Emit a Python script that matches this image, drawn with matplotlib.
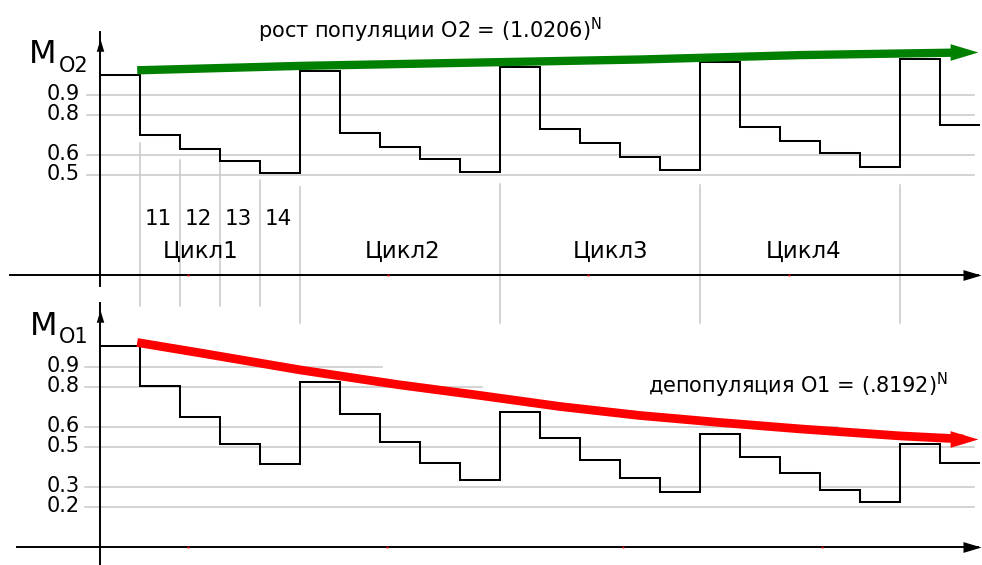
import numpy as np
import matplotlib.pyplot as plt
from matplotlib.path import Path

# уровни по шагам (один шаг = 40 px в исходнике)
o2_levels = [1.00, 0.70, 0.628, 0.568, 0.506,
             1.019, 0.706, 0.639, 0.578, 0.514,
             1.039, 0.728, 0.656, 0.589, 0.523,
             1.061, 0.739, 0.668, 0.606, 0.539,
             1.078, 0.748]
o1_levels = [1.004, 0.803, 0.646, 0.513, 0.414,
             0.824, 0.661, 0.521, 0.416, 0.333,
             0.671, 0.541, 0.433, 0.341, 0.274,
             0.561, 0.449, 0.366, 0.283, 0.224,
             0.513, 0.416]

# линии тренда (шаг, значение)
o2_trend_x = [0.93, 5.0, 13.5, 17.5, 21.6]
o2_trend_y = [1.021, 1.043, 1.075, 1.097, 1.11]
o1_trend_x = [0.93, 2.5, 5.0, 7.5, 9.4, 11.5, 13.5, 15.5, 17.5, 20.0, 21.6]
o1_trend_y = [1.02, 0.968, 0.883, 0.808, 0.758, 0.70, 0.655, 0.62, 0.588, 0.553, 0.537]

o2_ticks = [0.9, 0.8, 0.6, 0.5]
o1_ticks = [0.9, 0.8, 0.6, 0.5, 0.3, 0.2]
o1_grid_end = [7.05, 9.55, 18.45, 21.85, 21.85, 21.85]

step_labels = ["11", "12", "13", "14"]
step_label_pos = [1, 2, 3, 4]
cycle_labels = ["Цикл1", "Цикл2", "Цикл3", "Цикл4"]
cycle_pos = [2.525, 7.56, 12.775, 17.59]

# серые вертикальные линии: шаг, откуда начинается (в единицах верхнего графика)
vline_x = [1, 2, 3, 4, 5, 10, 15, 20]
vline_top = [0.66, 0.5725, 0.556, 0.4725, 0.439, 0.451, 0.4475, 0.4475]
vline_bot = [-0.155, -0.155, -0.155, -0.155, -0.24, -0.24, -0.24, -0.24]

red_dots_top = [2.2, 7.2, 12.2, 17.225]
red_dots_bot = [2.2, 7.175, 13.075, 18.05]

GRID = "#c8c8c8"
GREEN = "#008000"
RED = "#ff0000"

arrow_h = Path([(-1, -0.6), (1, 0), (-1, 0.6), (-1, -0.6)],
               [Path.MOVETO, Path.LINETO, Path.LINETO, Path.CLOSEPOLY])
arrow_v = Path([(-0.6, -1), (0, 1), (0.6, -1), (-0.6, -1)],
               [Path.MOVETO, Path.LINETO, Path.LINETO, Path.CLOSEPOLY])

fig = plt.figure(figsize=(9.82, 5.65), dpi=100)
ax_top = fig.add_axes([0, 0, 1, 1])
ax_bot = fig.add_axes([0, 0, 1, 1])
for ax in (ax_top, ax_bot):
    ax.set_xlim(-2.5, 22.05)
    ax.axis("off")
    ax.patch.set_alpha(0)
ax_top.set_ylim(-1.4525, 1.3725)
ax_bot.set_ylim(-0.0925, 2.7325)

edges = np.arange(len(o2_levels) + 1)

# --- верхний график: O2 ---
ax = ax_top
for v in o2_ticks:
    ax.plot([-0.33, 21.85], [v, v], color=GRID, lw=1.1, zorder=1)
    ax.text(-0.5, v, f"{v:.1f}", ha="right", va="center", fontsize=15)
for x, y0, y1 in zip(vline_x, vline_top, vline_bot):
    ax.plot([x, x], [y0, y1], color=GRID, lw=1.1, zorder=1)
ax.plot([-2.25, 21.95], [0, 0], color="k", lw=1.4, zorder=2)
ax.plot([21.8], [0], marker=arrow_h, ms=13, color="k", mew=0, zorder=2)
ax.plot([0, 0], [-0.0575, 1.2125], color="k", lw=1.4, zorder=2)
ax.plot([0], [1.1475], marker=arrow_v, ms=9, color="k", mew=0, zorder=2)
ax.plot(red_dots_top, [0] * len(red_dots_top), "s", ms=1.3, color=RED, mew=0, zorder=3)

ax.stairs(o2_levels, edges, baseline=None, color="k", lw=1.45, zorder=3)
ax.plot(o2_trend_x, o2_trend_y, color=GREEN, lw=6, solid_capstyle="butt", zorder=4)
ax.plot(o2_trend_x[-1], o2_trend_y[-1], marker=arrow_h, ms=20, color=GREEN, mew=0, zorder=4)

ax.text(-1.775, 1.0575, "M", fontsize=23, ha="left", va="baseline")
ax.text(-1.025, 1.014, "O2", fontsize=15, ha="left", va="baseline")
ax.text(3.95, 1.181, r"рост популяции O2 = (1.0206)$^{\mathrm{N}}$",
        fontsize=15, ha="left", va="baseline")
for x, lab in zip(step_label_pos, step_labels):
    ax.text(x + 0.11, 0.2475, lab, fontsize=15.5, ha="left", va="baseline")
for x, lab in zip(cycle_pos, cycle_labels):
    ax.text(x, 0.081, lab, fontsize=16.5, ha="center", va="baseline")

# --- нижний график: O1 ---
ax = ax_bot
for v, x_end in zip(o1_ticks, o1_grid_end):
    ax.plot([-0.38, x_end], [v, v], color=GRID, lw=1.1, zorder=1)
    ax.text(-0.5, v, f"{v:.1f}", ha="right", va="center", fontsize=15)
ax.plot([-2.075, 21.95], [0, 0], color="k", lw=1.4, zorder=2)
ax.plot([21.8], [0], marker=arrow_h, ms=13, color="k", mew=0, zorder=2)
ax.plot([0, 0], [-0.0925, 1.2175], color="k", lw=1.4, zorder=2)
ax.plot([0], [1.1525], marker=arrow_v, ms=9, color="k", mew=0, zorder=2)
ax.plot(red_dots_bot, [0] * len(red_dots_bot), "s", ms=1.3, color=RED, mew=0, zorder=3)

ax.stairs(o1_levels, edges, baseline=None, color="k", lw=1.45, zorder=3)
ax.plot(o1_trend_x, o1_trend_y, color=RED, lw=6.3, solid_capstyle="butt", zorder=4)
ax.plot(o1_trend_x[-1], o1_trend_y[-1], marker=arrow_h, ms=20, color=RED, mew=0, zorder=4)

ax.text(-1.75, 1.0575, "M", fontsize=23, ha="left", va="baseline")
ax.text(-1.025, 1.0175, "O1", fontsize=15, ha="left", va="baseline")
ax.text(13.7, 0.766, r"депопуляция O1 = (.8192)$^{\mathrm{N}}$",
        fontsize=15, ha="left", va="baseline")

fig.savefig("out.png", dpi=100)
